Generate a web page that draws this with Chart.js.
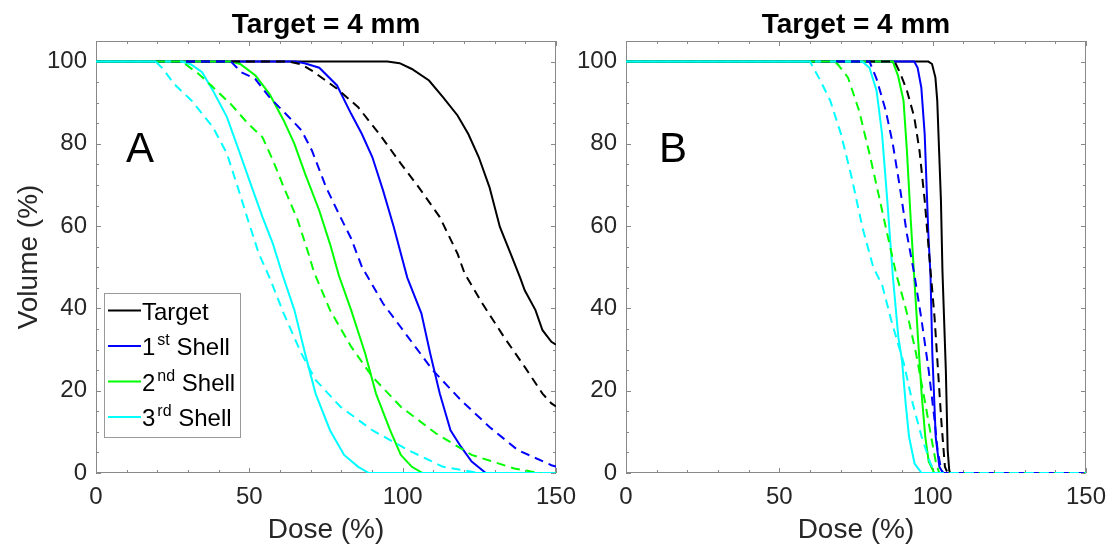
<!DOCTYPE html>
<html>
<head>
<meta charset="utf-8">
<script src="https://cdn.jsdelivr.net/npm/chart.js@4.4.1/dist/chart.umd.min.js"></script>
<style>
  body { margin: 0; background: #fff; }
  #wrap { position: relative; width: 1116px; height: 550px; }
  #wrap canvas { position: absolute; left: 0; top: 0; }
</style>
</head>
<body>
<div id="wrap">
  <canvas id="chartA" width="1116" height="550"></canvas>
  <canvas id="chartB" width="1116" height="550"></canvas>
</div>
<script>
// dose-volume curves, [dose %, volume %]
// panel A
const aTarget = [[0,100],[95,100],[99,99.6],[103,98.2],[108.6,95.4],[113.2,91.3],[117.9,86.9],[121.4,82.4],[124.8,76.8],[128.3,69.5],[131.7,59.8],[135.2,53.3],[138.3,47.5],[139.8,44.4],[143.3,39.6],[145.6,34.7],[148.5,31.9],[150,31.2]];
const aShell1 = [[0,100],[65,100],[68,99.6],[72.8,98.5],[78.6,94.2],[83.2,87.3],[86.7,82.4],[90.1,76.8],[93.6,68.7],[97.1,59.8],[101.5,47.5],[106.1,38.8],[109,29],[112.1,19.3],[115.6,10.4],[119,6.4],[122.5,2.8],[127.1,0],[150,0]];
const aShell2 = [[0,100],[44,100],[47,99.4],[52,96.6],[56.6,92.1],[61.2,85.7],[64.7,80],[68.2,72.7],[72.8,63.8],[76.3,55.7],[79.2,48],[83.2,39.6],[87.8,29],[91.3,19.3],[95.9,10.4],[99.4,4.4],[103,1.5],[106.5,0],[150,0]];
const aShell3 = [[0,100],[28,100],[31,99.3],[34.6,97.4],[38.1,93],[42.7,86.5],[46.2,79.2],[50.8,69.5],[54.3,62.2],[57.7,55.7],[60.9,48],[64.7,39.6],[68.2,29],[71.6,19.3],[76.3,10.4],[80.9,4.4],[85.5,1.5],[89,0],[150,0]];
const aTargetDash = [[0,100],[63,100],[67,99.3],[70.4,97.8],[78.6,93.4],[85.5,88.9],[92.4,82.4],[99.4,75.2],[105.2,69.5],[112.1,62.2],[117.9,53.3],[120.2,48.5],[126,41.2],[133,33.1],[139.8,25.8],[145.6,19.3],[148.5,16.9],[150,16.2]];
const aShell1Dash = [[0,100],[44,100],[47.4,97.4],[51.9,95.8],[56.6,91.3],[62.4,86.9],[67,83.3],[70.4,78.4],[75,69.5],[79.7,62.2],[83.2,57],[86.7,50.1],[93.6,41.2],[101.7,33.1],[109.8,25],[119,17.7],[128.3,11.2],[137.5,5.6],[148.5,1.9],[150,1.6]];
const aShell2Dash = [[0,100],[28,100],[33.5,97],[38.1,93.8],[43.9,89.7],[49.6,84.9],[54.3,81.6],[57.7,76],[61.2,69.5],[65.8,61.4],[69.3,53.3],[71,49],[76.3,39.6],[83.2,30.7],[90.1,23.4],[99.4,16.1],[110.9,9.6],[122.5,4.4],[136.4,1.1],[144.4,0],[150,0]];
const aShell3Dash = [[0,100],[19.5,100],[21.9,98.2],[25.4,94.6],[31.2,90.5],[38.1,84.1],[42.7,77.6],[46.2,69.5],[49.6,61.4],[53.1,53.3],[56.6,47.5],[61.2,38.8],[67,29],[71.6,22.6],[79.7,16.1],[90.1,10.4],[101.7,5.6],[113.2,1.5],[124.8,0],[150,0]];

// panel B
const bTarget = [[0,100],[98.6,100],[99.8,99.4],[100.9,96.1],[101.5,90.5],[102.1,78.4],[102.7,66.3],[103.2,49],[104.3,25],[104.9,5.6],[105.4,0.7],[105.7,0],[150,0]];
const bShell1 = [[0,100],[94,100],[95.1,98.5],[96.3,93.7],[97.4,82.4],[98.6,58.1],[99.3,48],[99.9,29],[101,8.8],[102.2,1.5],[103.4,0],[150,0]];
const bShell2 = [[0,100],[87,100],[88.7,96.6],[90.5,90.5],[91.6,78.4],[92.8,62.2],[94,47.5],[95.2,33.1],[96.4,19.3],[97.6,8.8],[98.7,2.8],[100.5,0],[150,0]];
const bShell3 = [[0,100],[77,100],[79.4,98.5],[81.7,93],[83.5,82.4],[85.2,66.3],[87,48],[88.8,33.1],[90,27.4],[91.2,16.9],[92.3,8.8],[94.1,2.3],[96.4,0],[150,0]];
const bTargetDash = [[0,100],[87.6,100],[89.3,97.4],[91.6,93],[94,86.5],[95.7,78.4],[97.4,66.3],[99.2,50.1],[100.6,38],[101.4,29],[102.8,12.9],[104,1.5],[104.9,0],[150,0]];
const bShell1Dash = [[0,100],[79.4,100],[81.7,95.8],[84.7,88.1],[87,80],[89.3,69.5],[91.6,58.1],[94,48.4],[96.4,37.1],[98.7,25],[100.5,13.7],[101.6,5.6],[102.8,0.7],[103.5,0],[150,0]];
const bShell2Dash = [[0,100],[67.5,100],[69,99.4],[72.4,96.1],[76,88.1],[79.4,77.6],[82.3,67.9],[85.2,58.1],[88.1,48.4],[90.5,42],[92.2,37.1],[94.6,29],[97.6,16.9],[99.9,7.2],[101.2,2],[102.2,0],[150,0]];
const bShell3Dash = [[0,100],[60,100],[63.1,95.8],[66.6,90.5],[70.1,82.4],[73.6,71.8],[77.1,59.7],[80.6,50.1],[83.6,45.5],[86.5,37.1],[90.6,26.6],[93.5,16.9],[96.4,8.8],[99.3,2.3],[101,0],[150,0]];

// axis ticks
const xTicks = [0, 50, 100, 150];
const yTicks = [0, 20, 40, 60, 80, 100];
const xMinor = [10, 20, 30, 40, 60, 70, 80, 90, 110, 120, 130, 140];
const yMinor = [5, 10, 15, 25, 30, 35, 45, 50, 55, 65, 70, 75, 85, 90, 95];

const seriesNames = ['Target', '1st Shell', '2nd Shell', '3rd Shell'];
const seriesColors = ['#000000', '#0000ff', '#00ff00', '#00ffff'];

Chart.defaults.font.family = "'Liberation Sans', Arial, sans-serif";
Chart.defaults.color = '#262626';

function makeDatasets(solids, dashes) {
    const sets = [];
    // solid ones go underneath, dashed ones on top
    solids.forEach((pts, i) => {
        sets.push({ label: seriesNames[i], data: pts, borderColor: seriesColors[i], borderWidth: 2,
            pointRadius: 0, tension: 0, fill: false, order: 8 - i });
    });
    dashes.forEach((pts, i) => {
        sets.push({ label: seriesNames[i] + ' dash', data: pts, borderColor: seriesColors[i], borderWidth: 2,
            borderDash: [9, 6], pointRadius: 0, tension: 0, fill: false, order: 4 - i });
    });
    return sets;
}

// box around the axes with small inward ticks
const frameTicks = {
    id: 'frameTicks',
    beforeDatasetsDraw(chart) {
        const { ctx, chartArea: a, scales: { x, y } } = chart;
        ctx.save();
        ctx.strokeStyle = '#888888';
        ctx.lineWidth = 1;
        ctx.beginPath();
        const tickX = (v, len) => {
            const px = Math.round(x.getPixelForValue(v)) + 0.5;
            ctx.moveTo(px, a.bottom); ctx.lineTo(px, a.bottom - len);
            ctx.moveTo(px, a.top); ctx.lineTo(px, a.top + len);
        };
        const tickY = (v, len) => {
            const py = Math.round(y.getPixelForValue(v)) + 0.5;
            ctx.moveTo(a.left, py); ctx.lineTo(a.left + len, py);
            ctx.moveTo(a.right, py); ctx.lineTo(a.right - len, py);
        };
        xTicks.forEach(v => tickX(v, 5));
        xMinor.forEach(v => tickX(v, 3));
        yTicks.forEach(v => tickY(v, 5));
        yMinor.forEach(v => tickY(v, 3));
        ctx.stroke();
        ctx.strokeRect(a.left + 0.5, a.top + 0.5, a.width - 1, a.height - 1);
        ctx.restore();
    },
    afterDatasetsDraw(chart, args, opts) {
        const { ctx, chartArea: a } = chart;
        ctx.save();
        ctx.fillStyle = '#000';
        ctx.textAlign = 'center';
        ctx.textBaseline = 'alphabetic';
        ctx.font = "bold 28px 'Liberation Sans', Arial, sans-serif";
        ctx.fillText(opts.title, (a.left + a.right) / 2, 33);
        ctx.textAlign = 'left';
        ctx.font = "42px 'Liberation Sans', Arial, sans-serif";
        ctx.fillText(opts.letter, a.left + opts.letterX, 162);
        if (opts.legend) drawLegend(ctx);
        ctx.restore();
    }
};

function drawLegend(ctx) {
    const left = 104, top = 293, w = 136, h = 144;
    ctx.fillStyle = '#fff';
    ctx.fillRect(left, top, w, h);
    ctx.strokeStyle = '#999999';
    ctx.lineWidth = 1;
    ctx.strokeRect(left + 0.5, top + 0.5, w, h);
    const rows = [['Target', '', ''], ['1', 'st', ' Shell'], ['2', 'nd', ' Shell'], ['3', 'rd', ' Shell']];
    rows.forEach((r, i) => {
        const ly = 310.5 + i * 35.5;
        ctx.strokeStyle = seriesColors[i];
        ctx.lineWidth = 2;
        ctx.beginPath();
        ctx.moveTo(108, ly); ctx.lineTo(141, ly);
        ctx.stroke();
        ctx.fillStyle = '#000';
        ctx.font = "24px 'Liberation Sans', Arial, sans-serif";
        let tx = 142;
        ctx.fillText(r[0], tx, ly + 9);
        tx += ctx.measureText(r[0]).width + 2;
        if (r[1]) {
            ctx.font = "16px 'Liberation Sans', Arial, sans-serif";
            ctx.fillText(r[1], tx, ly - 1);
            tx += ctx.measureText(r[1]).width;
            ctx.font = "24px 'Liberation Sans', Arial, sans-serif";
            ctx.fillText(r[2], tx, ly + 9);
        }
    });
}

function makeChart(id, datasets, yWidth, padRight, yTitle, opts) {
    return new Chart(document.getElementById(id), {
        type: 'line',
        data: { datasets: datasets },
        plugins: [frameTicks],
        options: {
            responsive: false,
            animation: false,
            layout: { padding: { left: 0, top: 41, right: padRight, bottom: 0 } },
            plugins: { legend: { display: false }, tooltip: { enabled: false }, frameTicks: opts },
            scales: {
                x: {
                    type: 'linear', min: 0, max: 150,
                    afterBuildTicks: s => { s.ticks = xTicks.map(v => ({ value: v })); },
                    afterFit: s => { s.height = 77; },
                    grid: { display: false, drawTicks: false },
                    border: { display: false },
                    ticks: { font: { size: 24 }, padding: 10, autoSkip: false, maxRotation: 0 },
                    title: { display: true, text: 'Dose (%)', font: { size: 28 }, padding: { top: 0, bottom: 3 } }
                },
                y: {
                    type: 'linear', min: 0, max: 105,
                    afterBuildTicks: s => { s.ticks = yTicks.map(v => ({ value: v })); },
                    afterFit: s => { s.width = yWidth; },
                    grid: { display: false, drawTicks: false },
                    border: { display: false },
                    ticks: { font: { size: 24 }, padding: 9, autoSkip: false },
                    title: { display: yTitle, text: 'Volume (%)', font: { size: 28 }, padding: { top: 12, bottom: 0 } }
                }
            }
        }
    });
}

makeChart('chartA', makeDatasets([aTarget, aShell1, aShell2, aShell3], [aTargetDash, aShell1Dash, aShell2Dash, aShell3Dash]),
    96, 1116 - 556, true, { title: 'Target = 4 mm', letter: 'A', letterX: 30, legend: true });
makeChart('chartB', makeDatasets([bTarget, bShell1, bShell2, bShell3], [bTargetDash, bShell1Dash, bShell2Dash, bShell3Dash]),
    626, 1116 - 1086, false, { title: 'Target = 4 mm', letter: 'B', letterX: 33, legend: false });
</script>
</body>
</html>
